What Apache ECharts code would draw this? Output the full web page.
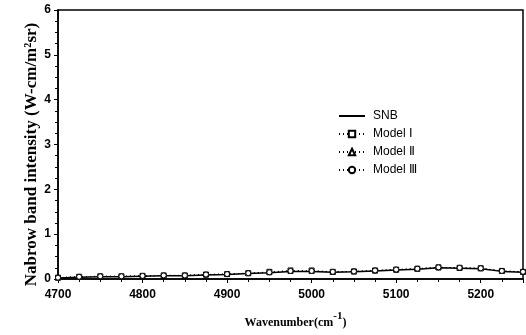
<!DOCTYPE html>
<html><head><meta charset="utf-8">
<script src="https://cdn.jsdelivr.net/npm/echarts@6/dist/echarts.min.js"></script>
<style>html,body{margin:0;padding:0;background:#fff}#c{width:526px;height:335px}</style>
</head><body><div id="c"></div>
<script>
const wavenumbers = [4700,4725,4750,4775,4800,4825,4850,4875,4900,4925,4950,4975,5000,5025,5050,5075,5100,5125,5150,5175,5200,5225,5250];
const snb    = [0.02,0.04,0.05,0.05,0.06,0.07,0.07,0.09,0.10,0.12,0.14,0.17,0.17,0.15,0.16,0.18,0.20,0.22,0.25,0.24,0.23,0.17,0.15];
const model1 = [0.03,0.05,0.06,0.06,0.07,0.08,0.08,0.10,0.11,0.13,0.16,0.19,0.19,0.16,0.17,0.19,0.21,0.23,0.26,0.25,0.24,0.18,0.16];
const model2 = [0.03,0.05,0.06,0.06,0.07,0.08,0.08,0.10,0.11,0.13,0.15,0.18,0.18,0.16,0.17,0.19,0.21,0.23,0.26,0.25,0.24,0.18,0.16];
const model3 = [0.03,0.05,0.06,0.06,0.07,0.08,0.08,0.10,0.11,0.13,0.15,0.18,0.18,0.16,0.17,0.19,0.21,0.23,0.26,0.25,0.24,0.18,0.16];
const seriesNames = ['SNB','Model Ⅰ','Model Ⅱ','Model Ⅲ'];
const xTicks = [4700,4800,4900,5000,5100,5200];
const yTicks = [0,1,2,3,4,5,6];

const pairs = arr => wavenumbers.map((w,i)=>[w,arr[i]]);
const chart = echarts.init(document.getElementById('c'), null, {renderer:'canvas'});
const markerSeries = (name, data, sym) => ({
  name, type:'line', data: pairs(data), symbol: sym, symbolSize: 5,
  showAllSymbol: true,
  itemStyle:{color:'#fff', borderColor:'#000', borderWidth:1},
  lineStyle:{color:'#000', width:0.8, type:[1,3]}, z: 3
});
chart.setOption({
  animation:false,
  backgroundColor:'#fff',
  grid:{left:58, right:3, top:10, bottom:56, show:true, borderColor:'#000', borderWidth:1.5, backgroundColor:'transparent'},
  legend:{
    orient:'vertical', left:333, top:105, itemGap:6, itemWidth:26, itemHeight:8,
    textStyle:{fontFamily:'Liberation Sans, Arial', fontSize:12, color:'#000', padding:[0,0,0,3]},
    data:[
      {name:seriesNames[0], itemStyle:{opacity:0}},
      seriesNames[1], seriesNames[2], seriesNames[3]
    ]
  },
  xAxis:{
    type:'value', min:4700, max:5250, interval:100,
    axisLine:{lineStyle:{color:'#000', width:1.5}},
    axisTick:{show:true, inside:false, length:4, lineStyle:{color:'#000'}},
    minorTick:{show:true, splitNumber:4, length:3, lineStyle:{color:'#000'}},
    splitLine:{show:false},
    axisLabel:{color:'#000', fontFamily:'Liberation Sans, Arial', fontWeight:'bold', fontSize:12, margin:10,
      formatter: v => xTicks.includes(v) ? String(v) : ''},
    name:'{a|Wavenumber(cm}{s|-1}{a|)}', nameLocation:'middle', nameGap:32,
    nameTextStyle:{padding:[0,0,0,10], rich:{
      a:{fontFamily:'Liberation Serif, Times New Roman', fontWeight:'bold', fontSize:12, color:'#000', verticalAlign:'bottom'},
      s:{fontFamily:'Liberation Serif, Times New Roman', fontWeight:'bold', fontSize:11, color:'#000', verticalAlign:'top', padding:[0,0,7,0]}
    }}
  },
  yAxis:{
    type:'value', min:0, max:6, interval:1,
    axisLine:{show:true, lineStyle:{color:'#000', width:1.5}},
    axisTick:{show:true, inside:false, length:4, lineStyle:{color:'#000'}},
    minorTick:{show:true, splitNumber:4, length:3, lineStyle:{color:'#000'}},
    splitLine:{show:false},
    axisLabel:{color:'#000', fontFamily:'Liberation Sans, Arial', fontWeight:'bold', fontSize:12, margin:7,
      formatter: v => yTicks.includes(v) ? String(v) : ''},
    name:'Nabrow band intensity (W-cm/m²sr)', nameLocation:'middle', nameGap:18, nameRotate:90,
    nameMoveOverlap:false,
    nameTextStyle:{fontFamily:'Liberation Serif, Times New Roman', fontWeight:'bold', fontSize:17, color:'#000', padding:[0,20,0,0]}
  },
  series:[
    {name:seriesNames[0], type:'line', data:pairs(snb), symbol:'none',
     lineStyle:{color:'#000', width:1.5}, itemStyle:{color:'#000'}, z:2},
    markerSeries(seriesNames[1], model1, 'rect'),
    markerSeries(seriesNames[2], model2, 'triangle'),
    markerSeries(seriesNames[3], model3, 'circle')
  ]
});
</script></body></html>
